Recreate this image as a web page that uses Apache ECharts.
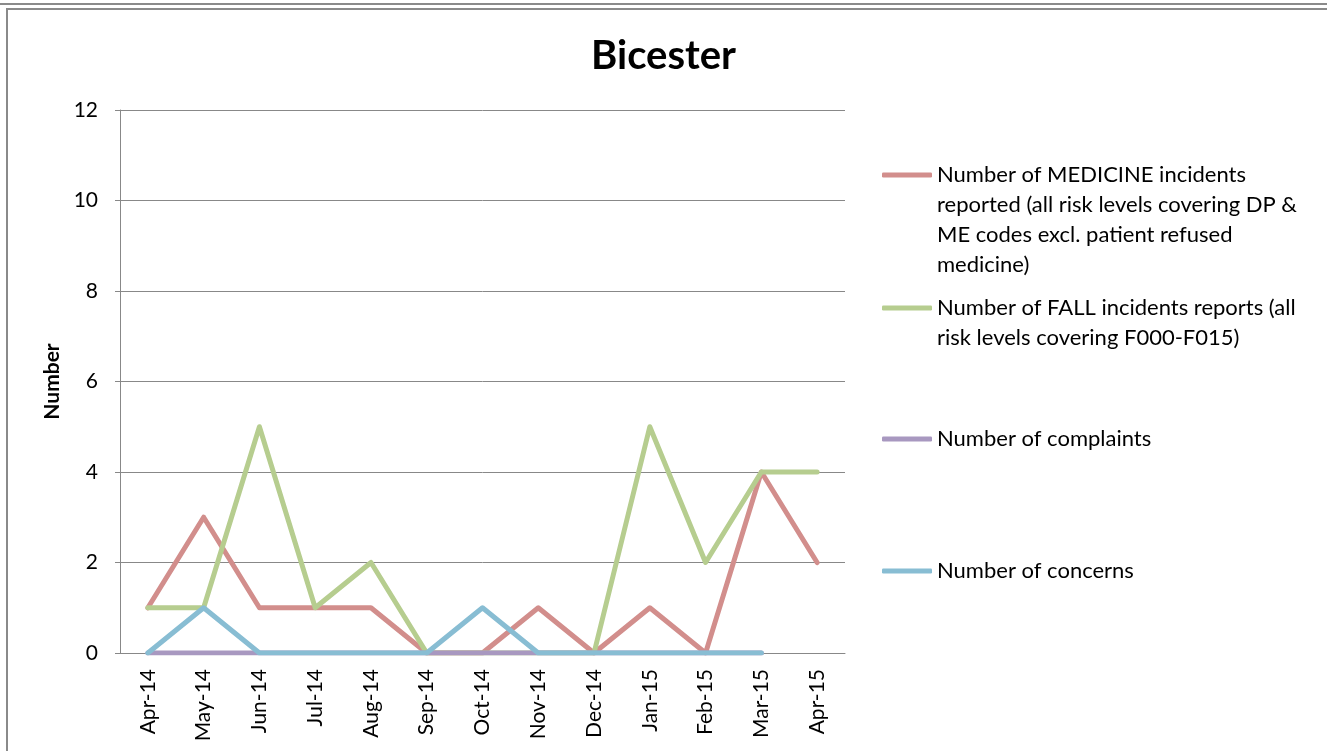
<!DOCTYPE html>
<html>
<head>
<meta charset="utf-8">
<title>Bicester</title>
<script src="https://cdn.jsdelivr.net/npm/echarts@6/dist/echarts.min.js"></script>
<style>
  html, body { margin: 0; padding: 0; background: #fff; }
  #chart { width: 1327px; height: 751px; }
</style>
</head>
<body>
<div id="chart"></div>
<script>
// categories (months)
const months = ['Apr-14', 'May-14', 'Jun-14', 'Jul-14', 'Aug-14', 'Sep-14', 'Oct-14',
                'Nov-14', 'Dec-14', 'Jan-15', 'Feb-15', 'Mar-15', 'Apr-15'];

// series values
const medicine   = [1, 3, 1, 1, 1, 0, 0, 1, 0, 1, 0, 4, 2];
const falls      = [1, 1, 5, 1, 2, 0, 0, 0, 0, 5, 2, 4, 4];
const complaints = [0, 0, 0, 0, 0, 0, 0, 0, 0, 0, 0, 0, null];
const concerns   = [0, 1, 0, 0, 0, 0, 1, 0, 0, 0, 0, 0, null];

// legend names, wrapped as in the original
const names = [
    'Number of MEDICINE incidents\nreported (all risk levels covering DP &\nME codes excl. patient refused\nmedicine)',
    'Number of FALL incidents reports (all\nrisk levels covering F000-F015)',
    'Number of complaints',
    'Number of concerns'
];
const colors = ['#D28E8C', '#B6CD8F', '#A898C0', '#88BDD3'];
const values = [medicine, falls, complaints, concerns];

const FONT = 'Lato';
const LH = 30;
// y of the legend marker for each series
const legendY = [175, 308, 439, 571];

let myChart = echarts.init(document.getElementById('chart'));

// one legend per series; blank lines in front push the text down so
// the marker sits level with the first text line (as Excel does)
let legends = names.map(function (name, i) {
    let n = name.split('\n').length;
    return {
        orient: 'vertical',
        left: 882,
        top: legendY[i] - (2 * n - 1) * LH / 2,
        padding: 0,
        icon: 'roundRect',
        itemWidth: 50,
        itemHeight: 5,
        itemGap: 0,
        selectedMode: false,
        formatter: function (nm) {
            return '\n'.repeat(n - 1) + nm;
        },
        textStyle: { fontFamily: FONT, fontSize: 22, color: '#000', lineHeight: LH },
        data: [name]
    };
});

let option = {
    animation: false,
    color: colors,
    title: {
        text: 'Bicester',
        left: 'center',
        top: 31,
        textStyle: { fontFamily: FONT, fontSize: 40, fontWeight: 'bold', color: '#000' }
    },
    legend: legends,
    grid: { left: 120, right: 482, top: 110, bottom: 98, containLabel: false },
    xAxis: {
        type: 'category',
        data: months,
        boundaryGap: true,
        axisLine: { lineStyle: { color: '#888', width: 1 } },
        axisTick: { show: false },
        axisLabel: {
            rotate: 90, interval: 0, margin: 16,
            fontFamily: FONT, fontSize: 21, color: '#000'
        }
    },
    yAxis: {
        type: 'value',
        min: 0, max: 12, interval: 2,
        name: 'Number',
        nameLocation: 'middle',
        nameGap: 57,
        nameRotate: 90,
        nameTextStyle: { fontFamily: FONT, fontSize: 21, fontWeight: 'bold', color: '#000' },
        axisLine: { show: true, lineStyle: { color: '#888', width: 1 } },
        axisTick: { show: true, length: 5, lineStyle: { color: '#888' } },
        axisLabel: { margin: 22, fontFamily: FONT, fontSize: 21, color: '#000' },
        splitLine: { lineStyle: { color: '#888', width: 1 } }
    },
    series: values.map(function (v, i) {
        return {
            name: names[i],
            type: 'line',
            data: v,
            symbol: 'none',
            lineStyle: { width: 5, color: colors[i], cap: 'round', join: 'round' },
            itemStyle: { color: colors[i] }
        };
    }),
    graphic: [
        { type: 'line', shape: { x1: 0, y1: 4, x2: 1327, y2: 4 },
          style: { stroke: '#8a8a8a', lineWidth: 2 }, silent: true },
        { type: 'rect', shape: { x: 7, y: 9, width: 1400, height: 800 },
          style: { fill: null, stroke: '#8a8a8a', lineWidth: 2 }, silent: true }
    ]
};

myChart.setOption(option);
</script>
</body>
</html>
